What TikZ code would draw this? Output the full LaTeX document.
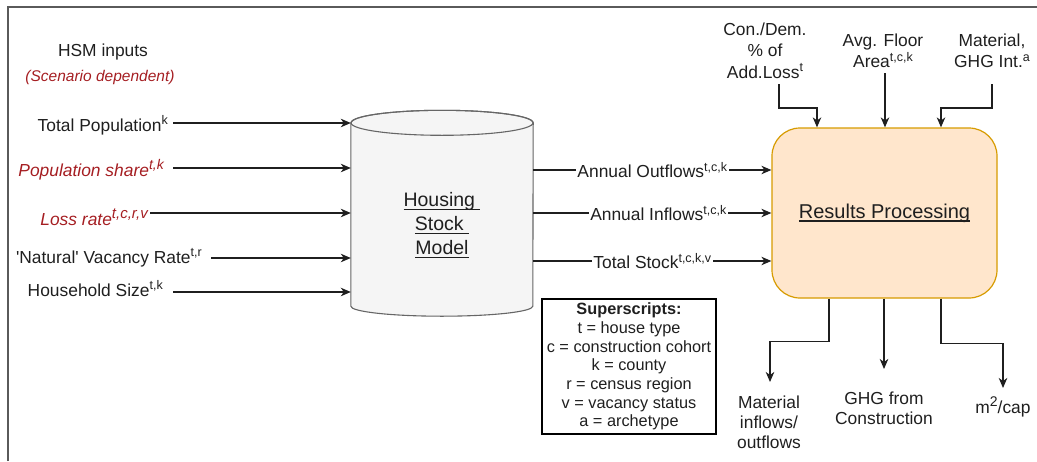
\documentclass[tikz,border=0pt]{standalone}
\usepackage{fontspec}
\setmainfont{Liberation Sans}
\usetikzlibrary{arrows.meta}

\definecolor{ink}{HTML}{1F1F1F}
\definecolor{scen}{HTML}{A51E22}
\definecolor{framegray}{HTML}{5A5A5A}
\definecolor{cylfill}{HTML}{F5F5F5}
\definecolor{cylline}{HTML}{666666}
\definecolor{procfill}{HTML}{FFE6CC}
\definecolor{procline}{HTML}{D79B00}

% underline that keeps a trailing space, drawn a little below the baseline
\newcommand\undl[1]{\setbox0\hbox{#1}\rlap{\rule[-3.5pt]{\wd0}{1.3pt}}\box0}
% raised index letters; optional size
\newcommand\up[2][12.5]{\raisebox{6.5pt}{\fontsize{#1}{#1}\selectfont #2}}

\begin{document}
\begin{tikzpicture}[x=1pt,y=-1pt,
  lbl/.style={font=\fontsize{17.4}{21.5}\selectfont, text=ink, inner sep=0pt},
  redlbl/.style={lbl, text=scen, font=\fontsize{17.4}{21.5}\selectfont\itshape},
  arr/.style={draw=ink, line width=1.3pt, -{Stealth[length=10pt,width=8.5pt,inset=3pt]}},
  flowlbl/.style={lbl, fill=white, inner xsep=1.5pt, inner ysep=1pt}]

\useasboundingbox (0,0) rectangle (1037,461);

% outer frame
\draw[draw=framegray, line width=1.5pt] (8,461) -- (8,7) -- (1037,7);

% ---------------- housing stock model (cylinder) ----------------
\node[minimum width=182pt, minimum height=183pt, inner sep=0pt] (cyl) at (442,214.5) {};
\path[draw=cylline, fill=cylfill, line width=1.1pt]
  (cyl.north west) -- (cyl.south west)
  arc[start angle=180, end angle=360, x radius=91pt, y radius=10pt]
  -- (cyl.north east)
  arc[start angle=0, end angle=180, x radius=91pt, y radius=12.5pt] -- cycle;
\draw[draw=cylline, line width=1.1pt] (cyl.north) ellipse[x radius=91pt, y radius=12.5pt];
\node[lbl, font=\fontsize{19.5}{24}\selectfont, align=center] (hsm) at ([yshift=-10.5pt]cyl.center)
  {\undl{Housing\ }\\\undl{Stock\ }\\\undl{Model}};

% ---------------- results processing ----------------
\node[draw=procline, fill=procfill, line width=1.2pt, rounded corners=28pt,
      minimum width=225pt, minimum height=170pt, inner sep=0pt,
      font=\fontsize{20}{24}\selectfont, text=ink] (rp) at (884.5,213) {\undl{Results Processing}};

% ---------------- inputs ----------------
\node[lbl] (hdr) at (103,52) {HSM inputs};
\node[lbl, text=scen, font=\fontsize{15.5}{19}\selectfont\itshape] (scn) at (100,77) {(Scenario dependent)};

\node[lbl, anchor=base east] (tp) at (168,131) {Total Population\up{k}};
\node[redlbl, anchor=base east] (ps) at (164,176) {Population share\up[14]{t,k}};
\node[redlbl, anchor=base east] (lr) at (148,225) {Loss rate\up[15]{t,c,r,v}};
\node[lbl, anchor=base east] (vr) at (202,263) {\textquotesingle Natural\textquotesingle\ Vacancy Rate\up{t,r}};
\node[lbl, anchor=base east] (hs) at (163,296) {Household Size\up{t,k}};

\coordinate (s1) at (173,123);
\coordinate (s2) at (173,168);
\coordinate (s3) at (150,213);
\coordinate (s4) at (211,258);
\coordinate (s5) at (173,292);
\foreach \s in {s1,s2,s3,s4,s5}
  \draw[arr] (\s) -- (\s -| cyl.west);

% ---------------- flows from the stock model ----------------
\coordinate (yOut) at (0,170);
\coordinate (yIn) at (0,213);
\coordinate (yStock) at (0,261);
\draw[arr] (cyl.east |- yOut) -- node[flowlbl] (ao) {Annual Outflows\up{t,c,k}} (rp.west |- yOut);
\draw[arr] (cyl.east |- yIn) -- node[flowlbl, xshift=6pt] (ai) {Annual Inflows\up{t,c,k}} (rp.west |- yIn);
\draw[arr] (cyl.east |- yStock) -- node[flowlbl] (ts) {Total Stock\up{t,c,k,v}} (rp.west |- yStock);

% ---------------- superscript key ----------------
\node[draw=black, line width=1.3pt, minimum width=174pt, minimum height=135pt, inner sep=0pt,
      align=center, font=\fontsize{16.3}{18.7}\selectfont, text=ink] (key) at (629,366.5)
  {\textbf{Superscripts:}\\t = house type\\c = construction cohort\\k = county\\
   r = census region\\v = vacancy status\\a = archetype};

% ---------------- processing inputs ----------------
\node[lbl, align=center] (cd) at (765,50.5) {Con./Dem.\\\% of\\Add.Loss\up{t}};
\node[lbl, align=center] (fl) at (883,51) {Avg. Floor\\Area\up{t,c,k}};
\node[lbl, align=center] (mat) at (992,51) {Material,\\GHG Int.\up{a}};

\coordinate (cdFoot) at (779,84);
\coordinate (flFoot) at (885,73);
\coordinate (matFoot) at (992,84);
\draw[arr] (cdFoot) -- ++(0,24) -| ([xshift=-67.5pt]rp.north);
\draw[arr] (flFoot) -- (flFoot |- rp.north);
\draw[arr] (matFoot) -- ++(0,24) -| ([xshift=56.5pt]rp.north);

% ---------------- processing outputs ----------------
\node[lbl, align=center, font=\fontsize{17.4}{20}\selectfont] (mi) at (769,422) {Material\\inflows/\\outflows};
\node[lbl, align=center, font=\fontsize{17.4}{19.5}\selectfont] (ghg) at (884,408.5) {GHG from\\Construction};
\node[lbl] (m2) at (1003,407) {m\raisebox{7pt}{\fontsize{14}{14}\selectfont 2}/cap};

\coordinate (miTop) at (770,382);
\coordinate (ghgTop) at (884,369);
\coordinate (m2Top) at (1003,388);
\draw[arr] ([xshift=-55.5pt]rp.south) -- ++(0,43) -| (miTop);
\draw[arr] (rp.south -| ghgTop) -- (ghgTop);
\draw[arr] ([xshift=56.5pt]rp.south) -- ++(0,45) -| (m2Top);

\end{tikzpicture}
\end{document}
